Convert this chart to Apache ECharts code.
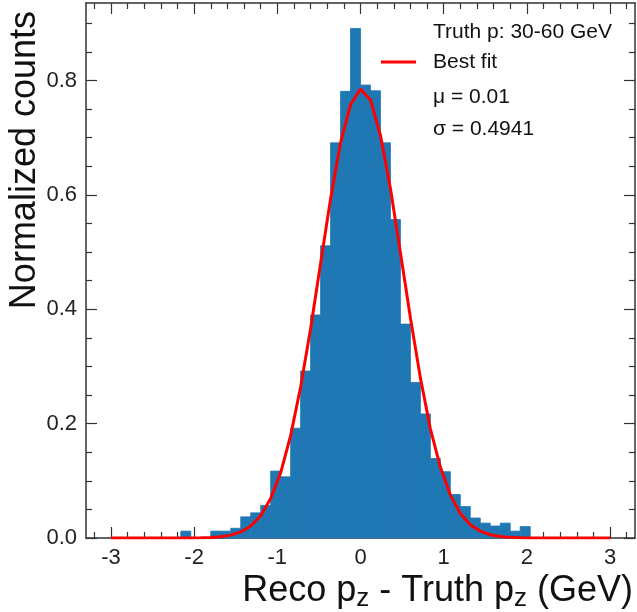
<!DOCTYPE html>
<html>
<head>
<meta charset="utf-8">
<script src="https://cdn.jsdelivr.net/npm/echarts@6/dist/echarts.min.js"></script>
<style>
  html, body { margin: 0; padding: 0; background: #fff; }
  #chart { width: 637px; height: 612px; }
</style>
</head>
<body>
<div id="chart"></div>
<script>
// ---- Data ----
// Histogram bin edges (50 bins of width 0.12 from -3 to 3)
const binEdges = [-3.00,-2.88,-2.76,-2.64,-2.52,-2.40,-2.28,-2.16,-2.04,-1.92,
  -1.80,-1.68,-1.56,-1.44,-1.32,-1.20,-1.08,-0.96,-0.84,-0.72,
  -0.60,-0.48,-0.36,-0.24,-0.12,0.00,0.12,0.24,0.36,0.48,
  0.60,0.72,0.84,0.96,1.08,1.20,1.32,1.44,1.56,1.68,
  1.80,1.92,2.04,2.16,2.28,2.40,2.52,2.64,2.76,2.88,3.00];
// Normalized counts per bin
const binCounts = [0,0,0,0,0,0,0,0.012,0,0,
  0.012,0.012,0.017,0.037,0.044,0.057,0.117,0.107,0.192,0.292,
  0.390,0.511,0.691,0.781,0.891,0.792,0.782,0.691,0.557,0.374,
  0.272,0.217,0.139,0.116,0.076,0.055,0.035,0.026,0.021,0.026,
  0.012,0.020,0,0,0,0,0,0,0,0];
// Best-fit curve, read at the bin edges
const fitX = binEdges;
const fitY = [0,0,0,0,0,0,0,0,0.0001,0.0004,
  0.001,0.0023,0.005,0.0106,0.021,0.039,0.069,0.114,0.179,0.264,
  0.366,0.480,0.593,0.691,0.758,0.785,0.766,0.704,0.611,0.499,
  0.385,0.280,0.191,0.124,0.075,0.043,0.023,0.012,0.0057,0.0026,
  0.0011,0.0004,0.0002,0,0,0,0,0,0,0,0];
// Axis ticks / labels
const xMajorTicks = [-3,-2,-1,0,1,2,3];
const yMajorTicks = [0,0.2,0.4,0.6,0.8];
const legendLines = ['Truth p: 30-60 GeV', 'Best fit', 'μ = 0.01', 'σ = 0.4941'];
const xTitle = '{n|Reco p}{s|z}{n| - Truth p}{s|z}{n| (GeV)}';
const yTitle = 'Normalized counts';

const xMinorTicks = [];
for (let i = -16; i <= 16; i++) if (i % 5 !== 0) xMinorTicks.push(+(i * 0.2).toFixed(2));
const yMinorTicks = [];
for (let i = 1; i <= 18; i++) if (i % 4 !== 0) yMinorTicks.push(+(i * 0.05).toFixed(2));

const X_MIN = -3.3, X_MAX = 3.3, Y_MIN = 0, Y_MAX = 0.9355;
const FONT = '"Liberation Sans", Arial, Helvetica, sans-serif';
const AX_COLOR = '#333';
const BAR_COLOR = '#1f77b4';

const histData = binCounts.map((v, i) => [binEdges[i], binEdges[i + 1], v]);
const fitData = fitX.map((x, i) => [x, fitY[i]]);

function xAx(pos, ticks, len, withLine, extra) {
  return Object.assign({
    type: 'value', min: X_MIN, max: X_MAX, position: pos,
    axisLine: { show: withLine, onZero: false, lineStyle: { color: AX_COLOR, width: 1.5 } },
    axisTick: { show: true, inside: true, length: len, customValues: ticks, lineStyle: { color: AX_COLOR, width: 1.2 } },
    axisLabel: { show: false },
    splitLine: { show: false }
  }, extra || {});
}
function yAx(pos, ticks, len, withLine, extra) {
  return Object.assign({
    type: 'value', min: Y_MIN, max: Y_MAX, position: pos,
    axisLine: { show: withLine, onZero: false, lineStyle: { color: AX_COLOR, width: 1.5 } },
    axisTick: { show: true, inside: true, length: len, customValues: ticks, lineStyle: { color: AX_COLOR, width: 1.2 } },
    axisLabel: { show: false },
    splitLine: { show: false }
  }, extra || {});
}

const chart = echarts.init(document.getElementById('chart'), null, { renderer: 'canvas' });
chart.setOption({
  animation: false,
  backgroundColor: '#fff',
  grid: { left: 86, right: 2, top: 3, bottom: 74, containLabel: false, outerBoundsMode: 'none' },
  xAxis: [
    xAx('bottom', xMajorTicks, 11, true, {
      axisLabel: { show: true, customValues: xMajorTicks, margin: 9, fontSize: 22, fontFamily: FONT, color: '#222',
        formatter: v => String(v) },
      name: xTitle, nameLocation: 'end', nameGap: -2,
      nameTextStyle: { align: 'right', verticalAlign: 'top', padding: [32, 0, 0, 0], color: '#111',
        rich: {
          n: { fontSize: 36, fontFamily: FONT, color: '#111', lineHeight: 42, verticalAlign: 'middle' },
          s: { fontSize: 26, fontFamily: FONT, color: '#111', verticalAlign: 'bottom' }
        } }
    }),
    xAx('bottom', xMinorTicks, 6, false),
    xAx('top', xMajorTicks, 11, true),
    xAx('top', xMinorTicks, 6, false)
  ],
  yAxis: [
    yAx('left', yMajorTicks, 11, true, {
      axisLabel: { show: true, customValues: yMajorTicks, margin: 9, fontSize: 22, fontFamily: FONT, color: '#222',
        formatter: v => v.toFixed(1) },
      name: yTitle, nameLocation: 'end', nameRotate: 90, nameGap: -8,
      nameTextStyle: { align: 'right', verticalAlign: 'bottom', padding: [0, 0, 43, 0],
        fontSize: 36, fontFamily: FONT, color: '#111' }
    }),
    yAx('left', yMinorTicks, 6, false),
    yAx('right', yMajorTicks, 11, true),
    yAx('right', yMinorTicks, 6, false)
  ],
  legend: {
    show: true, left: 381, top: 50, orient: 'vertical', padding: 0,
    data: [{ name: 'Best fit', icon: 'rect' }],
    itemWidth: 35, itemHeight: 3,
    textStyle: { fontSize: 21, fontFamily: FONT, color: '#111', lineHeight: 24, padding: [0, 0, 0, 12] }
  },
  graphic: [
    { type: 'text', left: 433, top: 22, style: { text: legendLines[0], font: '21px ' + FONT, fill: '#111' } },
    { type: 'text', left: 433, top: 87, style: { text: legendLines[2], font: '21px ' + FONT, fill: '#111' } },
    { type: 'text', left: 433, top: 119, style: { text: legendLines[3], font: '21px ' + FONT, fill: '#111' } }
  ],
  series: [
    {
      name: 'Histogram', type: 'custom', xAxisIndex: 0, yAxisIndex: 0,
      data: histData, encode: { x: [0, 1], y: 2 }, z: 2,
      renderItem: function (params, api) {
        const p0 = api.coord([api.value(0), api.value(2)]);
        const p1 = api.coord([api.value(1), 0]);
        return { type: 'rect', shape: { x: p0[0], y: p0[1], width: p1[0] - p0[0], height: p1[1] - p0[1] },
          style: { fill: BAR_COLOR, stroke: BAR_COLOR, lineWidth: 0.8 } };
      }
    },
    {
      name: legendLines[1], type: 'line', xAxisIndex: 0, yAxisIndex: 0,
      data: fitData, showSymbol: false, symbol: 'none', smooth: false, z: 3,
      lineStyle: { color: '#ff0000', width: 3 }, itemStyle: { color: '#ff0000' }
    }
  ]
});
</script>
</body>
</html>
